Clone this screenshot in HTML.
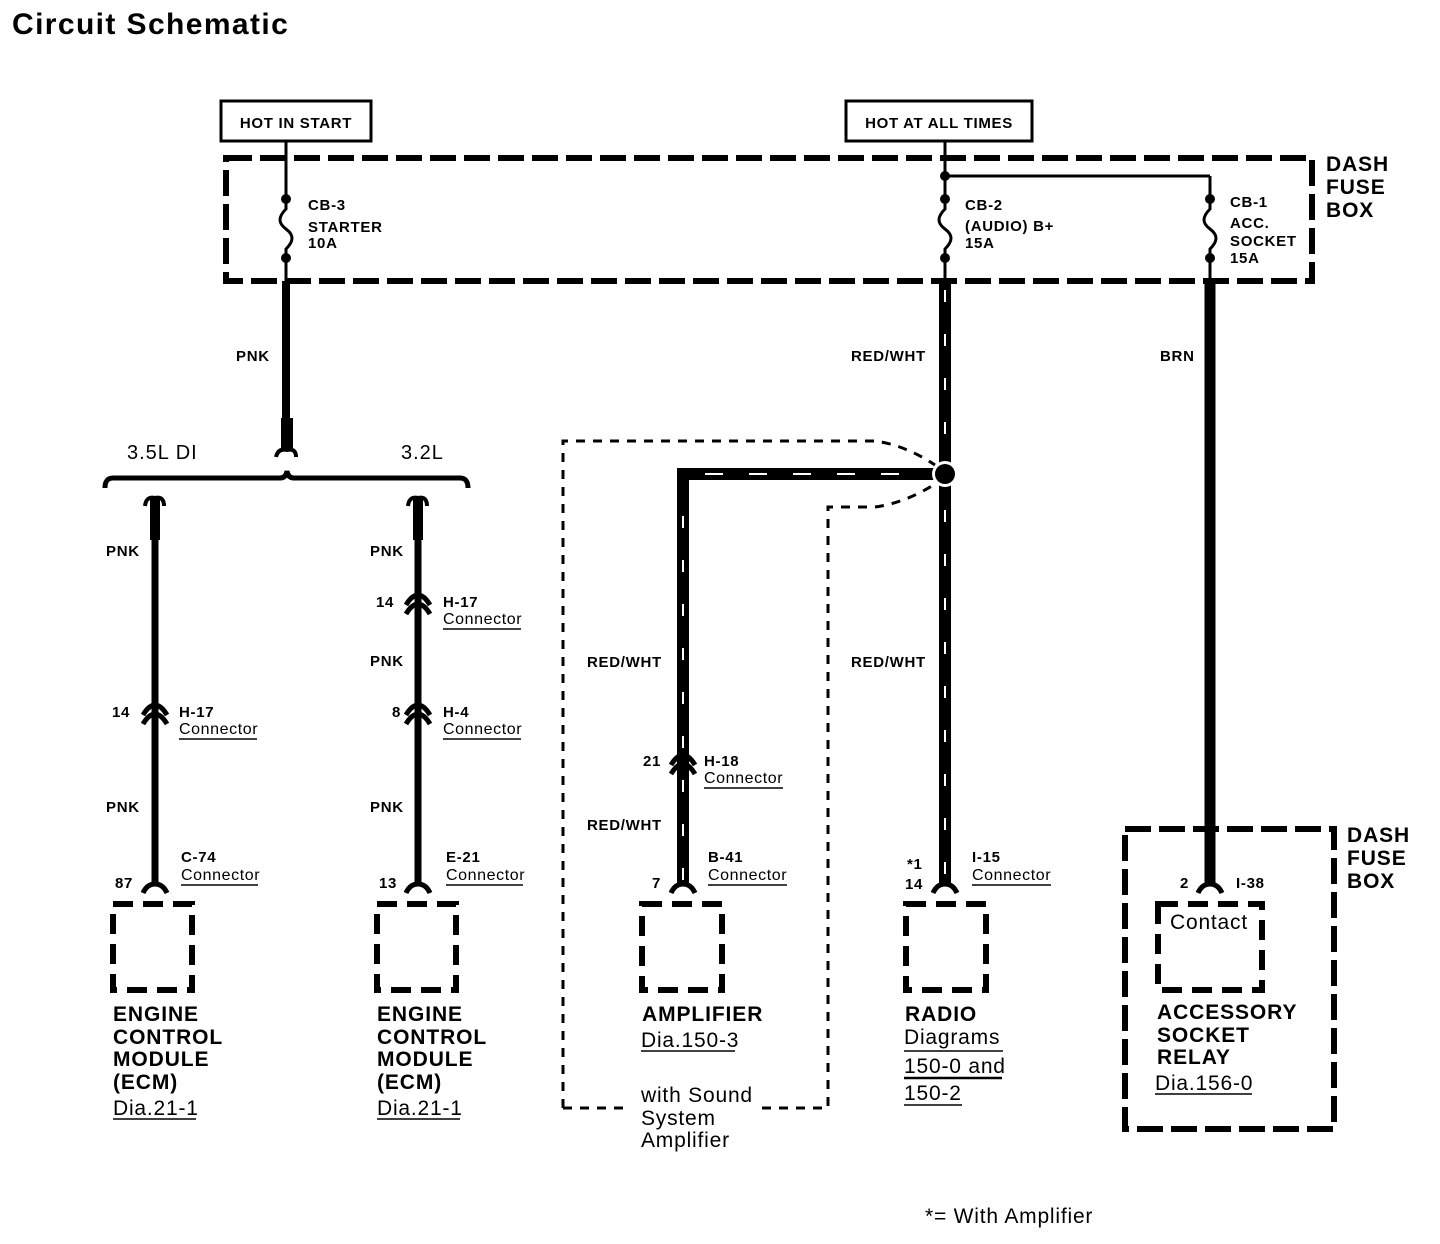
<!DOCTYPE html>
<html><head><meta charset="utf-8"><style>
html,body{margin:0;padding:0;background:#fff;}
svg{display:block;}
text{font-family:"Liberation Sans",Arial,sans-serif;fill:#000;}
.b{font-weight:bold;}
.s{font-size:15px;font-weight:bold;letter-spacing:0.7px;}
.c{font-size:16px;letter-spacing:0.6px;}
.l{font-size:21px;letter-spacing:0.8px;}
.lb{font-size:21px;font-weight:bold;letter-spacing:0.9px;}
</style></head><body>
<svg width="1440" height="1244" viewBox="0 0 1440 1244" xmlns="http://www.w3.org/2000/svg">
<defs>
<g id="fuse"><circle cx="0" cy="0" r="5"/><circle cx="0" cy="59" r="5"/>
<path d="M0 0 V10 C-8 18 -8 24 0 30 C8 36 8 42 0 50 V59" fill="none" stroke="#000" stroke-width="3"/></g>
<g id="conn"><path d="M-12 5 Q-6 -5 0 -5 Q6 -5 12 5" fill="none" stroke="#000" stroke-width="5"/><path d="M-12 14 Q-6 4 0 4 Q6 4 12 14" fill="none" stroke="#000" stroke-width="5"/></g>
<g id="term"><path d="M-12 6 Q-8 -3 0 -3 Q8 -3 12 6" fill="none" stroke="#000" stroke-width="5"/></g>
</defs>
<text x="12" y="34" class="b" font-size="30" letter-spacing="1.4">Circuit Schematic</text>

<rect x="221" y="101" width="150" height="40" fill="none" stroke="#000" stroke-width="3"/>
<text x="296" y="128" class="s" text-anchor="middle" font-size="16">HOT IN START</text>
<rect x="846" y="101" width="186" height="40" fill="none" stroke="#000" stroke-width="3"/>
<text x="939" y="128" class="s" text-anchor="middle" font-size="16">HOT AT ALL TIMES</text>

<rect x="226" y="158" width="1086" height="123" fill="none" stroke="#000" stroke-width="6" stroke-dasharray="26 8"/>
<text x="1326" y="171" class="lb">DASH</text><text x="1326" y="194" class="lb">FUSE</text><text x="1326" y="217" class="lb">BOX</text>

<!-- starter -->
<line x1="286" y1="142" x2="286" y2="199" stroke="#000" stroke-width="3"/>
<use href="#fuse" x="286" y="199"/>
<line x1="286" y1="258" x2="286" y2="281" stroke="#000" stroke-width="3"/>
<line x1="286" y1="281" x2="286" y2="420" stroke="#000" stroke-width="8"/>
<line x1="287" y1="418" x2="287" y2="450" stroke="#000" stroke-width="12"/>
<path d="M276 457 Q278 448 287 450 Q296 448 296 457" fill="none" stroke="#000" stroke-width="4"/>
<text x="308" y="210" class="s">CB-3</text><text x="308" y="232" class="s">STARTER</text><text x="308" y="248" class="s">10A</text>
<text x="236" y="361" class="s">PNK</text>
<path d="M105 488 Q105 478 113 478 H280 Q286 478 287 471 Q288 478 294 478 H460 Q468 478 468 488" fill="none" stroke="#000" stroke-width="5"/>
<text x="127" y="459" font-size="20" letter-spacing="1">3.5L DI</text>
<text x="401" y="459" font-size="20" letter-spacing="1">3.2L</text>

<!-- left branches -->
<g>
<path d="M145 506 Q146 496 155 498 Q164 496 164 506" fill="none" stroke="#000" stroke-width="4"/>
<line x1="155" y1="498" x2="155" y2="540" stroke="#000" stroke-width="10"/>
<line x1="155" y1="540" x2="155" y2="885" stroke="#000" stroke-width="7"/>
<use href="#conn" x="155" y="710"/>
<use href="#term" x="155" y="887"/>
<text x="106" y="556" class="s">PNK</text>
<text x="106" y="812" class="s">PNK</text>
<text x="112" y="717" class="s">14</text>
<text x="179" y="717" class="s">H-17</text><text x="179" y="734" class="c">Connector</text>
<line x1="179" y1="739" x2="257" y2="739" stroke="#000" stroke-width="1.5"/>
<text x="181" y="862" class="s">C-74</text><text x="181" y="880" class="c">Connector</text>
<line x1="181" y1="885" x2="258" y2="885" stroke="#000" stroke-width="1.5"/>
<text x="115" y="888" class="s">87</text>
</g>
<g>
<path d="M408 506 Q409 496 418 498 Q427 496 427 506" fill="none" stroke="#000" stroke-width="4"/>
<line x1="418" y1="498" x2="418" y2="540" stroke="#000" stroke-width="10"/>
<line x1="418" y1="540" x2="418" y2="885" stroke="#000" stroke-width="7"/>
<use href="#conn" x="418" y="600"/>
<use href="#conn" x="418" y="710"/>
<use href="#term" x="418" y="887"/>
<text x="370" y="556" class="s">PNK</text><text x="370" y="666" class="s">PNK</text><text x="370" y="812" class="s">PNK</text>
<text x="376" y="607" class="s">14</text>
<text x="443" y="607" class="s">H-17</text><text x="443" y="624" class="c">Connector</text>
<line x1="443" y1="629" x2="521" y2="629" stroke="#000" stroke-width="1.5"/>
<text x="392" y="717" class="s">8</text>
<text x="443" y="717" class="s">H-4</text><text x="443" y="734" class="c">Connector</text>
<line x1="443" y1="739" x2="521" y2="739" stroke="#000" stroke-width="1.5"/>
<text x="446" y="862" class="s">E-21</text><text x="446" y="880" class="c">Connector</text>
<line x1="446" y1="885" x2="523" y2="885" stroke="#000" stroke-width="1.5"/>
<text x="379" y="888" class="s">13</text>
</g>

<!-- audio -->
<line x1="945" y1="142" x2="945" y2="199" stroke="#000" stroke-width="3"/>
<circle cx="945" cy="176" r="5"/>
<line x1="945" y1="176" x2="1210" y2="176" stroke="#000" stroke-width="3"/>
<use href="#fuse" x="945" y="199"/>
<line x1="945" y1="258" x2="945" y2="281" stroke="#000" stroke-width="3"/>
<text x="965" y="210" class="s">CB-2</text><text x="965" y="231" class="s">(AUDIO) B+</text><text x="965" y="248" class="s">15A</text>
<path d="M945 281 V885" stroke="#000" stroke-width="12" fill="none"/>
<path d="M945 290 V880" stroke="#fff" stroke-width="2" stroke-dasharray="12 32" fill="none"/>
<path d="M683 885 V474 H945" stroke="#000" stroke-width="12" fill="none"/>
<path d="M683 880 V492" stroke="#fff" stroke-width="2" stroke-dasharray="12 32" fill="none"/>
<path d="M705 474 H920" stroke="#fff" stroke-width="2" stroke-dasharray="18 26" fill="none"/>
<circle cx="945" cy="474" r="13" fill="#fff"/>
<circle cx="945" cy="474" r="10"/>
<use href="#conn" x="683" y="760"/>
<use href="#term" x="683" y="887"/>
<use href="#term" x="945" y="887"/>
<text x="851" y="361" class="s">RED/WHT</text>
<text x="587" y="667" class="s">RED/WHT</text>
<text x="851" y="667" class="s">RED/WHT</text>
<text x="587" y="830" class="s">RED/WHT</text>
<text x="643" y="766" class="s">21</text>
<text x="704" y="766" class="s">H-18</text><text x="704" y="783" class="c">Connector</text>
<line x1="704" y1="788" x2="783" y2="788" stroke="#000" stroke-width="1.5"/>
<text x="652" y="888" class="s">7</text>
<text x="708" y="862" class="s">B-41</text><text x="708" y="880" class="c">Connector</text>
<line x1="708" y1="885" x2="787" y2="885" stroke="#000" stroke-width="1.5"/>
<text x="907" y="869" class="s">*1</text><text x="905" y="889" class="s">14</text>
<text x="972" y="862" class="s">I-15</text><text x="972" y="880" class="c">Connector</text>
<line x1="972" y1="885" x2="1051" y2="885" stroke="#000" stroke-width="1.5"/>

<path d="M563 1108 V441 H875 Q905 445 935 465" fill="none" stroke="#000" stroke-width="3" stroke-dasharray="9 8"/>
<path d="M563 1108 H625 M762 1108 H828 V507 H875 Q905 503 935 484" fill="none" stroke="#000" stroke-width="3" stroke-dasharray="9 8"/>

<!-- acc socket -->
<line x1="1210" y1="176" x2="1210" y2="199" stroke="#000" stroke-width="3"/>
<use href="#fuse" x="1210" y="199"/>
<line x1="1210" y1="258" x2="1210" y2="281" stroke="#000" stroke-width="3"/>
<text x="1230" y="207" class="s">CB-1</text><text x="1230" y="228" class="s">ACC.</text><text x="1230" y="246" class="s">SOCKET</text><text x="1230" y="263" class="s">15A</text>
<line x1="1210" y1="281" x2="1210" y2="885" stroke="#000" stroke-width="11"/>
<use href="#term" x="1210" y="887"/>
<text x="1160" y="361" class="s">BRN</text>
<text x="1180" y="888" class="s">2</text><text x="1236" y="888" class="s">I-38</text>
<rect x="1125" y="829" width="209" height="300" fill="none" stroke="#000" stroke-width="6" stroke-dasharray="26 8"/>
<text x="1347" y="842" class="lb">DASH</text><text x="1347" y="865" class="lb">FUSE</text><text x="1347" y="888" class="lb">BOX</text>

<!-- component boxes -->
<g fill="none" stroke="#000" stroke-width="6" stroke-dasharray="20 10">
<rect x="113" y="904" width="79" height="86"/>
<rect x="377" y="904" width="79" height="86"/>
<rect x="642" y="904" width="80" height="86"/>
<rect x="906" y="904" width="80" height="86"/>
<rect x="1158" y="904" width="104" height="86"/>
</g>
<text x="1170" y="929" class="l">Contact</text>

<text x="113" y="1021" class="lb">ENGINE</text><text x="113" y="1044" class="lb">CONTROL</text><text x="113" y="1066" class="lb">MODULE</text><text x="113" y="1089" class="lb">(ECM)</text>
<text x="377" y="1021" class="lb">ENGINE</text><text x="377" y="1044" class="lb">CONTROL</text><text x="377" y="1066" class="lb">MODULE</text><text x="377" y="1089" class="lb">(ECM)</text>
<text x="642" y="1021" class="lb">AMPLIFIER</text>
<text x="905" y="1021" class="lb">RADIO</text>
<text x="1157" y="1019" class="lb">ACCESSORY</text><text x="1157" y="1042" class="lb">SOCKET</text><text x="1157" y="1064" class="lb">RELAY</text>
<text x="113" y="1115" class="l">Dia.21-1</text><line x1="113" y1="1119" x2="196" y2="1119" stroke="#000" stroke-width="1.5"/>
<text x="377" y="1115" class="l">Dia.21-1</text><line x1="377" y1="1119" x2="460" y2="1119" stroke="#000" stroke-width="1.5"/>
<text x="641" y="1047" class="l">Dia.150-3</text><line x1="641" y1="1051" x2="735" y2="1051" stroke="#000" stroke-width="1.5"/>
<text x="641" y="1102" class="l">with Sound</text><text x="641" y="1125" class="l">System</text><text x="641" y="1147" class="l">Amplifier</text>
<text x="904" y="1044" class="l">Diagrams</text><line x1="904" y1="1051" x2="1003" y2="1051" stroke="#000" stroke-width="1.5"/>
<text x="904" y="1073" class="l">150-0 and</text><line x1="904" y1="1078" x2="1002" y2="1078" stroke="#000" stroke-width="2.5"/>
<text x="904" y="1100" class="l">150-2</text><line x1="904" y1="1105" x2="962" y2="1105" stroke="#000" stroke-width="1.5"/>
<text x="1155" y="1090" class="l">Dia.156-0</text><line x1="1155" y1="1094" x2="1252" y2="1094" stroke="#000" stroke-width="1.5"/>
<text x="925" y="1223" class="l">*= With Amplifier</text>
</svg>
</body></html>
